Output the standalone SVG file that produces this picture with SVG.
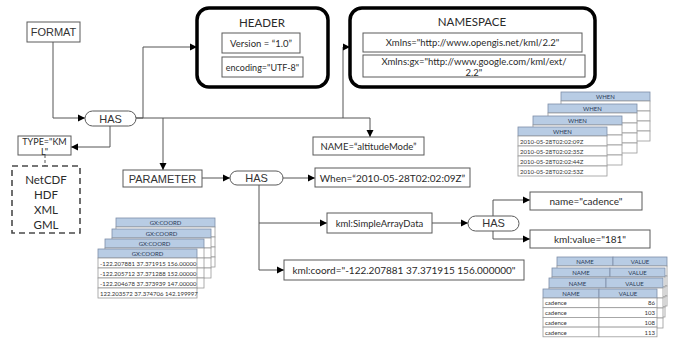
<svg xmlns="http://www.w3.org/2000/svg" width="678" height="341" viewBox="0 0 678 341">
  <style>
    .box { fill: #ffffff; stroke: #5a5a5a; stroke-width: 1; }
    .frame { fill: #ffffff; stroke: #000000; stroke-width: 3.5; }
    .pill { fill: #ffffff; stroke: #5a5a5a; stroke-width: 1; }
    .dash { fill: #ffffff; stroke: #4a4a4a; stroke-width: 1.6; stroke-dasharray: 6 4; }
    .wire { fill: none; stroke: #555555; stroke-width: 1; }
    .sans { font-family: "Liberation Sans", Arial, sans-serif; fill: #333333; text-anchor: middle; dominant-baseline: central; }
    .cal { font-family: Lato, "Liberation Sans", sans-serif; fill: #2a2a2a; text-anchor: middle; dominant-baseline: central; }
    .th { fill: #b8cce4; stroke: #7e8ea8; stroke-width: 0.8; }
    .td { fill: #ffffff; stroke: #9a9a9a; stroke-width: 0.8; }
    .tt { font-family: Lato, "Liberation Sans", sans-serif; font-size: 6px; fill: #333333; dominant-baseline: central; }
    .tc { text-anchor: middle; fill: #2b3a55; }
    .tr { text-anchor: end; }
  </style>
  <defs>
    <marker id="arrow" markerWidth="8" markerHeight="8" refX="7" refY="4" orient="auto" markerUnits="userSpaceOnUse">
      <path d="M0,0.5 L7,4 L0,7.5 Z" fill="#000000"/>
    </marker>
  </defs>

  <rect width="678" height="341" fill="#ffffff"/>

  <!-- connectors -->
  <g id="connectors">
    <path class="wire" d="M53,42 V118 H85" marker-end="url(#arrow)"/>
    <path class="wire" d="M136,118 H143 V47 H197" marker-end="url(#arrow)"/>
    <path class="wire" d="M136,118 H370 V137" marker-end="url(#arrow)"/>
    <path class="wire" d="M163,118 V170" marker-end="url(#arrow)"/>
    <path class="wire" d="M343,118 V47 H350" marker-end="url(#arrow)"/>
    <path class="wire" d="M110,125 V147 H71" marker-end="url(#arrow)"/>
    <path class="wire" d="M45,155 V166" stroke-dasharray="3 2"/>
    <path class="wire" d="M202,178 H230" marker-end="url(#arrow)"/>
    <path class="wire" d="M283,178 H315" marker-end="url(#arrow)"/>
    <path class="wire" d="M259,185 V270 H284" marker-end="url(#arrow)"/>
    <path class="wire" d="M259,223 H327" marker-end="url(#arrow)"/>
    <path class="wire" d="M432,223 H468" marker-end="url(#arrow)"/>
    <path class="wire" d="M493,216 V200 H530" marker-end="url(#arrow)"/>
    <path class="wire" d="M493,231 V239 H530" marker-end="url(#arrow)"/>
  </g>

  <!-- nodes -->
  <g id="format">
    <rect class="box" x="27" y="22" width="53" height="20"/>
    <text class="sans" x="53.5" y="32" font-size="11">FORMAT</text>
  </g>

  <g id="has-root">
    <rect class="pill" x="85" y="111" width="51" height="15" rx="7.5"/>
    <text class="sans" x="110.5" y="118.5" font-size="11">HAS</text>
  </g>

  <g id="header">
    <rect class="frame" x="197" y="8" width="131" height="79" rx="12"/>
    <text class="cal" x="262" y="22" font-size="11.5">HEADER</text>
    <rect class="box" x="222" y="33" width="78" height="20"/>
    <text class="cal" x="261" y="43" font-size="9.5">Version = “1.0”</text>
    <rect class="box" x="222" y="57" width="81" height="20"/>
    <text class="cal" x="262.5" y="67" font-size="9">encoding="UTF-8"</text>
  </g>

  <g id="namespace">
    <rect class="frame" x="350" y="8" width="245" height="79" rx="12"/>
    <text class="cal" x="472" y="21" font-size="11.5">NAMESPACE</text>
    <rect class="box" x="363" y="33" width="219" height="19"/>
    <text class="cal" x="472.5" y="42.5" font-size="9.5">Xmlns="http://www.opengis.net/kml/2.2"</text>
    <rect class="box" x="363" y="55" width="222" height="22"/>
    <text class="cal" x="474" y="61" font-size="9.5">Xmlns:gx="http://www.google.com/kml/ext/</text>
    <text class="cal" x="474" y="72" font-size="9.5">2.2"</text>
  </g>

  <g id="type">
    <rect class="box" x="18" y="136" width="53" height="19"/>
    <text class="cal" x="44.5" y="141" font-size="9">TYPE="KM</text>
    <text class="cal" x="44.5" y="151" font-size="9">L"</text>
  </g>

  <g id="formats">
    <rect class="dash" x="12" y="166" width="68" height="67"/>
    <text class="cal" x="46" y="179" font-size="11.5">NetCDF</text>
    <text class="cal" x="46" y="194" font-size="11.5">HDF</text>
    <text class="cal" x="46" y="209" font-size="11.5">XML</text>
    <text class="cal" x="46" y="224" font-size="11.5">GML</text>
  </g>

  <g id="name">
    <rect class="box" x="313" y="137" width="111" height="18"/>
    <text class="cal" x="368.5" y="146" font-size="9.5">NAME=“altitudeMode”</text>
  </g>

  <g id="parameter">
    <rect class="box" x="123" y="170" width="79" height="17"/>
    <text class="sans" x="162.5" y="178.5" font-size="11">PARAMETER</text>
  </g>

  <g id="has-parameter">
    <rect class="pill" x="230" y="171" width="53" height="14" rx="7"/>
    <text class="sans" x="256.5" y="178" font-size="11">HAS</text>
  </g>

  <g id="when">
    <rect class="box" x="315" y="168" width="155" height="19"/>
    <text class="cal" x="392.5" y="177.5" font-size="10">When=“2010-05-28T02:02:09Z”</text>
  </g>

  <g id="simple-array-data">
    <rect class="box" x="327" y="213" width="105" height="20"/>
    <text class="cal" x="379.5" y="223" font-size="9.5">kml:SimpleArrayData</text>
  </g>

  <g id="coord">
    <rect class="box" x="284" y="260" width="240" height="20"/>
    <text class="cal" x="404" y="270" font-size="10">kml:coord="-122.207881 37.371915 156.000000"</text>
  </g>

  <g id="has-data">
    <rect class="pill" x="468" y="216" width="51" height="15" rx="7.5"/>
    <text class="sans" x="493.5" y="223" font-size="11">HAS</text>
  </g>

  <g id="name-value">
    <rect class="box" x="530" y="192" width="112" height="18"/>
    <text class="cal" x="586" y="201" font-size="10">name="cadence"</text>
  </g>

  <g id="kml-value">
    <rect class="box" x="530" y="230" width="120" height="18"/>
    <text class="cal" x="590" y="239" font-size="10">kml:value="181"</text>
  </g>

  <!-- WHEN sample tables, back to front -->
  <g id="when-tables">
    <g transform="translate(561,92)">
      <rect class="th" x="0" y="0" width="89" height="9"/>
      <rect class="td" x="0" y="9" width="89" height="10"/><rect class="td" x="0" y="19" width="89" height="10"/><rect class="td" x="0" y="29" width="89" height="10"/><rect class="td" x="0" y="39" width="89" height="10"/>
      <text class="tt tc" x="44.5" y="4.5">WHEN</text>
    </g>
    <g transform="translate(548,104)">
      <rect class="th" x="0" y="0" width="89" height="9"/>
      <rect class="td" x="0" y="9" width="89" height="10"/><rect class="td" x="0" y="19" width="89" height="10"/><rect class="td" x="0" y="29" width="89" height="10"/><rect class="td" x="0" y="39" width="89" height="10"/>
      <text class="tt tc" x="44.5" y="4.5">WHEN</text>
    </g>
    <g transform="translate(533,116)">
      <rect class="th" x="0" y="0" width="89" height="9"/>
      <rect class="td" x="0" y="9" width="89" height="10"/><rect class="td" x="0" y="19" width="89" height="10"/><rect class="td" x="0" y="29" width="89" height="10"/><rect class="td" x="0" y="39" width="89" height="10"/>
      <text class="tt tc" x="44.5" y="4.5">WHEN</text>
    </g>
    <g transform="translate(518,127)">
      <rect class="th" x="0" y="0" width="89" height="9"/>
      <rect class="td" x="0" y="9" width="89" height="10"/><rect class="td" x="0" y="19" width="89" height="10"/><rect class="td" x="0" y="29" width="89" height="10"/><rect class="td" x="0" y="39" width="89" height="10"/>
      <text class="tt tc" x="44.5" y="4.5">WHEN</text>
      <text class="tt" x="2" y="14">2010-05-28T02:02:09Z</text>
      <text class="tt" x="2" y="24">2010-05-28T02:02:35Z</text>
      <text class="tt" x="2" y="34">2010-05-28T02:02:44Z</text>
      <text class="tt" x="2" y="44">2010-05-28T02:02:53Z</text>
    </g>
  </g>

  <!-- GX:COORD sample tables, back to front -->
  <g id="coord-tables">
    <g transform="translate(116,218)">
      <rect class="th" x="0" y="0" width="99" height="9"/>
      <rect class="td" x="0" y="9" width="99" height="10"/><rect class="td" x="0" y="19" width="99" height="10"/><rect class="td" x="0" y="29" width="99" height="10"/><rect class="td" x="0" y="39" width="99" height="10"/>
      <text class="tt tc" x="49.5" y="4.5">GX:COORD</text>
    </g>
    <g transform="translate(112,229)">
      <rect class="th" x="0" y="0" width="99" height="9"/>
      <rect class="td" x="0" y="9" width="99" height="10"/><rect class="td" x="0" y="19" width="99" height="10"/><rect class="td" x="0" y="29" width="99" height="10"/><rect class="td" x="0" y="39" width="99" height="10"/>
      <text class="tt tc" x="49.5" y="4.5">GX:COORD</text>
    </g>
    <g transform="translate(105,239)">
      <rect class="th" x="0" y="0" width="99" height="9"/>
      <rect class="td" x="0" y="9" width="99" height="10"/><rect class="td" x="0" y="19" width="99" height="10"/><rect class="td" x="0" y="29" width="99" height="10"/><rect class="td" x="0" y="39" width="99" height="10"/>
      <text class="tt tc" x="49.5" y="4.5">GX:COORD</text>
    </g>
    <g transform="translate(98,249)">
      <rect class="th" x="0" y="0" width="99" height="9"/>
      <rect class="td" x="0" y="9" width="99" height="10"/><rect class="td" x="0" y="19" width="99" height="10"/><rect class="td" x="0" y="29" width="99" height="10"/><rect class="td" x="0" y="39" width="99" height="10"/>
      <text class="tt tc" x="49.5" y="4.5">GX:COORD</text>
      <text class="tt" x="2" y="14">-122.207881 37.371915 156.00000</text>
      <text class="tt" x="2" y="24">-122.205712 37.371288 152.00000</text>
      <text class="tt" x="2" y="34">-122.204678 37.373939 147.00000</text>
      <text class="tt" x="2" y="44">122.203572 37.374706 142.199997</text>
    </g>
  </g>

  <!-- NAME / VALUE sample tables, back to front -->
  <g id="value-tables">
    <g transform="translate(557,257)">
      <rect class="th" x="0" y="0" width="56" height="9"/><rect class="th" x="56" y="0" width="54" height="9"/>
      <rect class="td" x="0" y="9" width="110" height="10"/><rect class="td" x="0" y="19" width="110" height="10"/><rect class="td" x="0" y="29" width="110" height="10"/><rect class="td" x="0" y="39" width="110" height="10"/>
      <text class="tt tc" x="28" y="4.5">NAME</text><text class="tt tc" x="83" y="4.5">VALUE</text>
    </g>
    <g transform="translate(552,268)">
      <rect class="th" x="0" y="0" width="58" height="9"/><rect class="th" x="58" y="0" width="55" height="9"/>
      <rect class="td" x="0" y="9" width="113" height="10"/><rect class="td" x="0" y="19" width="113" height="10"/><rect class="td" x="0" y="29" width="113" height="10"/><rect class="td" x="0" y="39" width="113" height="10"/>
      <text class="tt tc" x="29" y="4.5">NAME</text><text class="tt tc" x="85.5" y="4.5">VALUE</text>
    </g>
    <g transform="translate(549,278)">
      <rect class="th" x="0" y="0" width="57" height="10"/><rect class="th" x="57" y="0" width="57" height="10"/>
      <rect class="td" x="0" y="10" width="114" height="10"/><rect class="td" x="0" y="20" width="114" height="10"/><rect class="td" x="0" y="30" width="114" height="10"/><rect class="td" x="0" y="40" width="114" height="10"/>
      <text class="tt tc" x="28.5" y="5">NAME</text><text class="tt tc" x="85.5" y="5">VALUE</text>
    </g>
    <g transform="translate(543,289)">
      <rect class="th" x="0" y="0" width="56" height="9"/><rect class="th" x="56" y="0" width="58" height="9"/>
      <rect class="td" x="0" y="9" width="56" height="9.7"/><rect class="td" x="56" y="9" width="58" height="9.7"/>
      <rect class="td" x="0" y="18.7" width="56" height="9.7"/><rect class="td" x="56" y="18.7" width="58" height="9.7"/>
      <rect class="td" x="0" y="28.4" width="56" height="9.7"/><rect class="td" x="56" y="28.4" width="58" height="9.7"/>
      <rect class="td" x="0" y="38.1" width="56" height="9.7"/><rect class="td" x="56" y="38.1" width="58" height="9.7"/>
      <text class="tt tc" x="28" y="4.5">NAME</text><text class="tt tc" x="85" y="4.5">VALUE</text>
      <text class="tt" x="2" y="13.9">cadence</text><text class="tt tr" x="112" y="13.9">86</text>
      <text class="tt" x="2" y="23.6">cadence</text><text class="tt tr" x="112" y="23.6">103</text>
      <text class="tt" x="2" y="33.3">cadence</text><text class="tt tr" x="112" y="33.3">108</text>
      <text class="tt" x="2" y="43">cadence</text><text class="tt tr" x="112" y="43">113</text>
    </g>
  </g>
</svg>
